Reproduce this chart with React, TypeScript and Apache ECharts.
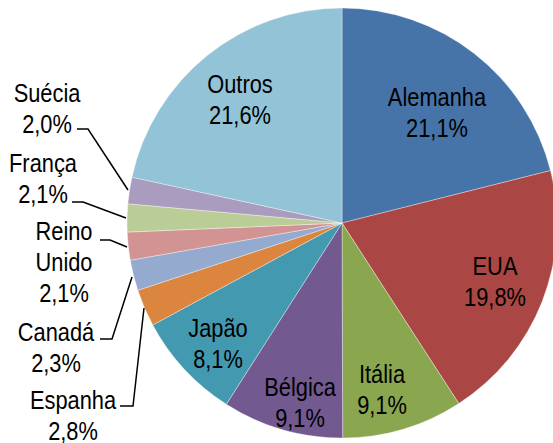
import React, { useEffect, useRef } from "react";
import * as echarts from "echarts";

const countries = ["Alemanha", "EUA", "Itália", "Bélgica", "Japão", "Espanha", "Canadá", "Reino\nUnido", "França", "Suécia", "Outros"];
const shares = [21.1, 19.8, 9.1, 9.1, 8.1, 2.8, 2.3, 2.1, 2.1, 2.0, 21.6];
const colors = ["#4673A8", "#AA4744", "#8AA64F", "#725990", "#4399B0", "#DB853E", "#94AACF", "#D19493", "#BACD97", "#A99CBE", "#93C3D6"];

// label anchor positions (centre of text block) and leader-line routes
const labelPos: number[][] = [
  [437, 112], [495, 281], [382, 389], [300, 402], [218, 343],
  [73, 415], [56, 347], [64, 262], [43, 178], [47, 108], [240, 99],
];
const leaderLines: (number[][] | null)[] = [
  null, null, null, null, null,
  [[144, 308], [133, 406], [120, 406]],
  [[132, 277], [112, 339], [100, 339]],
  [[127, 247], [110, 240], [100, 240]],
  [[126, 218], [83, 202], [72, 202]],
  [[128, 190], [88, 129], [77, 129]],
  null,
];

const fmt = (v: number) => v.toFixed(1).replace(".", ",") + "%";

export default function App() {
  const ref = useRef<HTMLDivElement>(null);
  useEffect(() => {
    if (!ref.current) return;
    const chart = echarts.init(ref.current, undefined, { renderer: "svg" });
    const texts = countries.map((n, i) => ({
      type: "text",
      x: labelPos[i][0],
      y: labelPos[i][1],
      scaleX: 0.84,
      z: 10,
      style: {
        text: n + "\n" + fmt(shares[i]),
        fill: "#000",
        fontFamily: "'Liberation Sans', Arial, sans-serif",
        fontSize: 26,
        lineHeight: 31,
        align: "center",
        verticalAlign: "middle",
      },
    }));
    const lines = leaderLines
      .filter((l) => l)
      .map((pts) => ({
        type: "polyline",
        z: 10,
        shape: { points: pts },
        style: { stroke: "#000", lineWidth: 1.5, fill: "none" },
      }));
    chart.setOption({
      animation: false,
      graphic: [...texts, ...lines],
      series: [
        {
          type: "pie",
          center: [342, 223],
          radius: [0, 215],
          startAngle: 90,
          clockwise: true,
          label: { show: false },
          labelLine: { show: false },
          itemStyle: { borderColor: "rgba(255,255,255,0.6)", borderWidth: 0.6 },
          data: countries.map((n, i) => ({
            name: n.replace("\n", " "),
            value: shares[i],
            itemStyle: { color: colors[i] },
          })),
        },
      ],
    });
    return () => chart.dispose();
  }, []);
  return <div ref={ref} style={{ position: "absolute", left: 0, top: 0, width: 553, height: 443 }} />;
}
